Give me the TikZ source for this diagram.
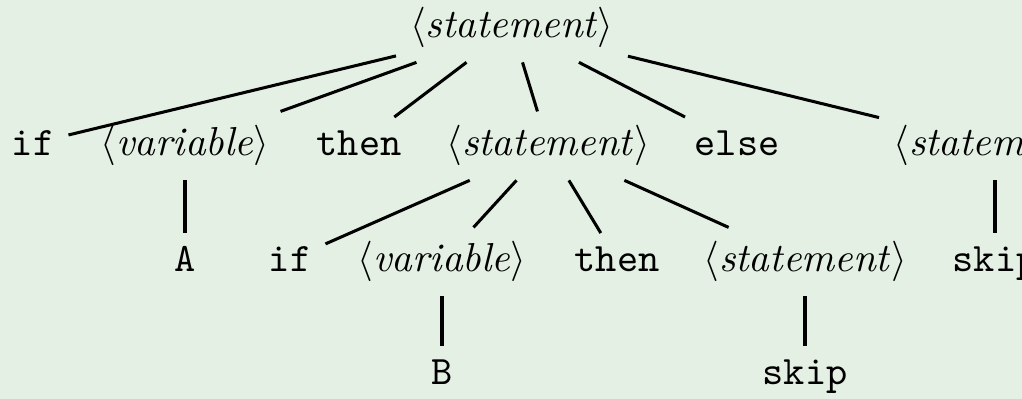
\documentclass[tikz,border=0pt]{standalone}
\definecolor{bgpaper}{RGB}{228,240,228}
\newcommand{\ntsym}[1]{$\langle$\textit{#1}$\rangle$}
\begin{document}
\begin{tikzpicture}[x=0.2475pt,y=-0.2475pt,
    sym/.style={anchor=base},
    edge/.style={line width=0.75pt}]
  % paper and frame
  \fill[bgpaper] (0,0) rectangle (1022,399);
  \useasboundingbox (0,0) rectangle (1022,399);
  \clip (0,0) rectangle (1022,399);

  % level 0
  \node[sym] (r) at (512,38) {\ntsym{statement}};

  % level 1
  \node[sym] (if1)   at (33,156)  {\texttt{if}};
  \node[sym] (var1)  at (185,156) {\ntsym{variable}};
  \node[sym] (then1) at (359,156) {\texttt{then}};
  \node[sym] (st1)   at (548,156) {\ntsym{statement}};
  \node[sym] (else1) at (737,156) {\texttt{else}};
  \node[sym] (st2)   at (995,156) {\ntsym{statement}};

  % level 2
  \node[sym] (a)     at (185,272) {\texttt{A}};
  \node[sym] (if2)   at (290,272) {\texttt{if}};
  \node[sym] (var2)  at (442,272) {\ntsym{variable}};
  \node[sym] (then2) at (617,272) {\texttt{then}};
  \node[sym] (st3)   at (805,272) {\ntsym{statement}};
  \node[sym] (skip1) at (995,272) {\texttt{skip}};

  % level 3
  \node[sym] (b)     at (442,385) {\texttt{B}};
  \node[sym] (skip2) at (805,385) {\texttt{skip}};

  % branches
  \foreach \c in {if1,var1,then1,st1,else1,st2}
    \draw[edge] (r) -- (\c);
  \draw[edge] (var1) -- (a);
  \draw[edge] (st2) -- (skip1);
  \foreach \c in {if2,var2,then2,st3}
    \draw[edge] (st1) -- (\c);
  \draw[edge] (var2) -- (b);
  \draw[edge] (st3) -- (skip2);
\end{tikzpicture}
\end{document}
